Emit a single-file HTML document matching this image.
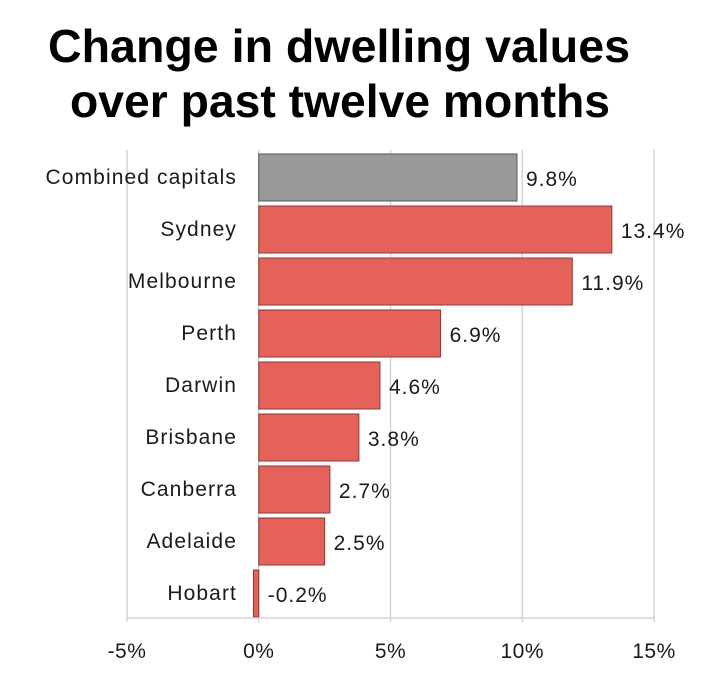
<!DOCTYPE html>
<html><head><meta charset="utf-8"><style>
html,body{margin:0;padding:0;background:#fff;width:711px;height:683px;overflow:hidden}
</style></head><body>
<svg id="chart" width="711" height="683" xmlns="http://www.w3.org/2000/svg">
<g font-family="Liberation Sans, Arial, sans-serif" font-weight="bold" font-size="46" fill="#000">
<text x="48" y="62" textLength="582" lengthAdjust="spacingAndGlyphs">Change in dwelling values</text>
<text x="70" y="117" textLength="540" lengthAdjust="spacingAndGlyphs">over past twelve months</text>
</g>
<g id="grid"></g><g id="bars"></g><g id="labels"></g><g id="xaxis"></g>
</svg>
<script>
const categories = ["Combined capitals","Sydney","Melbourne","Perth","Darwin","Brisbane","Canberra","Adelaide","Hobart"];
const values = [9.8,13.4,11.9,6.9,4.6,3.8,2.7,2.5,-0.2];
const valueLabels = ["9.8%","13.4%","11.9%","6.9%","4.6%","3.8%","2.7%","2.5%","-0.2%"];
const ticks = [-5,0,5,10,15];
const tickLabels = ["-5%","0%","5%","10%","15%"];

const NS="http://www.w3.org/2000/svg";
const x0=127,x1=654,dmin=-5,dmax=15,plotTop=150,plotBottom=618;
const xs=v=>x0+(v-dmin)/(dmax-dmin)*(x1-x0);
const band=(plotBottom-plotTop)/categories.length;
const yb=i=>plotTop+i*band;
function mk(tag,attrs,parent){const e=document.createElementNS(NS,tag);for(const k in attrs)e.setAttribute(k,attrs[k]);document.getElementById(parent).appendChild(e);return e;}
const font="Liberation Sans, DejaVu Sans, sans-serif";
ticks.forEach((t,i)=>{
  const g=mk("line",{x1:xs(t),x2:xs(t),y1:plotTop,y2:plotBottom+4,stroke:"#d4d4d4","stroke-width":1.5},"grid");
  
  
  const tl=mk("text",{x:xs(t),y:658,"text-anchor":"middle","font-family":font,"font-size":21,"letter-spacing":0.5,fill:"#1a1a1a"},"xaxis");
  tl.textContent=tickLabels[i];
  
  
});
const ax=mk("line",{x1:x0,x2:x1,y1:plotBottom,y2:plotBottom,stroke:"#d4d4d4","stroke-width":1.5},"xaxis");


categories.forEach((c,i)=>{
  const v=values[i];
  const xa=Math.min(xs(0),xs(v)),w=Math.abs(xs(v)-xs(0));
  const r=mk("rect",{x:xa,y:yb(i)+4,width:Math.max(w,1),height:band-5,fill:i===0?"#999999":"#e4625a",stroke:i===0?"#555":"#8a3a34","stroke-width":1},"bars");
  
  
  const cl=mk("text",{x:237,y:yb(i)+band/2+8,"text-anchor":"end","font-family":font,"font-size":21,"letter-spacing":1.1,fill:"#1a1a1a"},"labels");
  cl.textContent=c;
  
  
  const vl=mk("text",{x:Math.max(xs(v),xs(0))+9,y:yb(i)+band/2+10,"font-family":font,"font-size":21,"letter-spacing":1,fill:"#1a1a1a"},"labels");
  vl.textContent=valueLabels[i];
  
  
});
</script>
</body></html>
